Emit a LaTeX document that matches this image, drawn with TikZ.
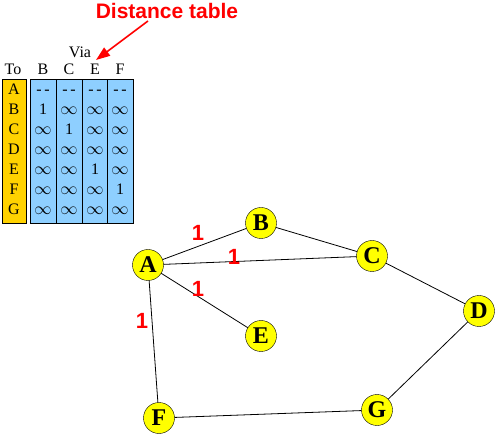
\documentclass[tikz,border=0pt]{standalone}
\usepackage{fontspec}
\setmainfont{Liberation Serif}
\setsansfont{Liberation Sans}
\usepackage{tikz}
\usetikzlibrary{positioning,arrows.meta}
\definecolor{NodeYellow}{HTML}{FFFF00}
\definecolor{ToYellow}{HTML}{FFD200}
\definecolor{ViaBlue}{HTML}{8ECFFF}
\definecolor{LabelRed}{HTML}{FF0000}

\begin{document}
\begin{tikzpicture}[x=1pt,y=-1pt,every node/.style={font=\fontsize{16}{16}\selectfont},
    cell/.style={inner sep=0pt,text height=11pt,text depth=0pt},
    router/.style={circle,draw=black,fill=NodeYellow,minimum size=31pt,inner sep=0pt,font=\fontsize{24}{24}\selectfont\bfseries},
    cost/.style={text=LabelRed,font=\fontsize{22}{22}\selectfont\sffamily\bfseries}]
  \useasboundingbox (0,0) rectangle (495,435);
  % distance table
  \draw[fill=ToYellow] (2,79) rectangle (26,223);
  \foreach \xa/\xb in {30/56,56/82,82/107,107/133}
    \draw[fill=ViaBlue] (\xa,79) rectangle (\xb,223);
  \node[cell] (to) at (13,69) {To};
  \node[cell] (via) at (80,52) {Via};
  \foreach \r [count=\i] in {A,B,C,D,E,F,G}
    \node[cell] (row\r) at (14,{69+20*\i}) {\r};
  \foreach \c/\x/\k in {B/43/2,C/69/3,E/95/5,F/120/6} {
    \node[cell] (via\c) at (\x,69) {\c};
    \node[cell] (dash\c) at (\x,89) {-\,-};
    \foreach \i in {2,...,7}
      \node[cell] at (\x,{69+20*\i}) {\ifnum\i=\k\relax 1\else$\infty$\fi};
  }
  \node[text=LabelRed,font=\fontsize{21}{21}\selectfont\sffamily\bfseries] (title) at (167,11) {Distance table};
  \coordinate (arrowtail) at (148,21);
  \coordinate (arrowhead) at (96,60);
  \draw[LabelRed,line width=1.6pt,-{Triangle[length=14pt,width=10pt]}] (arrowtail) -- (arrowhead);
  % network
  \node[router] (A) at (148,265) {A};
  \node[router] (B) at (261,223) {B};
  \node[router] (C) at (372,256) {C};
  \node[router] (D) at (479,311) {D};
  \node[router] (E) at (261,336) {E};
  \node[router] (F) at (159,418) {F};
  \node[router] (G) at (377,410) {G};
  \draw[line width=0.8pt] (A) -- (B) (A) -- (C) (A) -- (E) (A) -- (F)
    (B) -- (C) (C) -- (D) (D) -- (G) (G) -- (F);
  \node[cost] (costAB) at (198,233) {1};
  \node[cost] (costAC) at (234,257) {1};
  \node[cost] (costAE) at (198,289) {1};
  \node[cost] (costAF) at (142,321) {1};
\end{tikzpicture}
\end{document}
